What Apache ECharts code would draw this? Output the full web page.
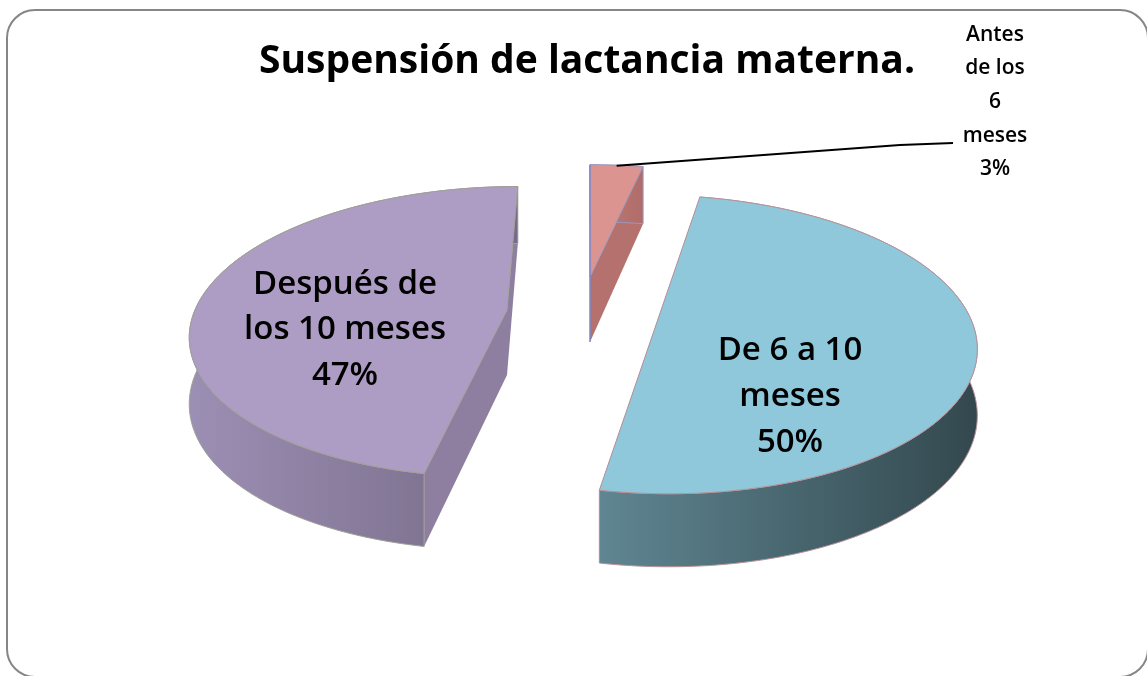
<!DOCTYPE html>
<html><head><meta charset="utf-8">
<style>html,body{margin:0;padding:0;background:#fff}#c{width:1147px;height:676px}</style>
<script src="https://cdn.jsdelivr.net/npm/echarts@6/dist/echarts.min.js"></script>
</head><body><div id="c"></div>
<script>
const chartTitle = 'Suspensión de lactancia materna.';
const categories = ['Antes\nde los\n6\nmeses', 'De 6 a 10\nmeses', 'Después de\nlos 10 meses'];
const values = [3, 50, 47];

// Layout and style per slice (exploded 3D pie)
const FONT = '"Open Sans","Noto Sans",sans-serif';
const layout = [
  {cx:590, cy:277, rx:325, ry:129, top:'#dc9490', edge:'#9a9ac0', wall:['#c07c78','#b06c68'], radial:'#b5716e',
   lx:995, ly:102, fs:21, lh:33.7, fw:600},
  {cx:657, cy:322, rx:315, ry:146, top:'#8fc8da', edge:'#b8929a', wall:['#5f8692','#33484e'], radial:'#5f8692',
   lx:790, ly:397, fs:33, lh:46, fw:600},
  {cx:507, cy:310, rx:312, ry:142, top:'#ad9cc3', edge:'#a0a098', wall:['#9c8fb4','#766a86'], radial:'#8e7fa0',
   lx:345, ly:330, fs:33, lh:45.5, fw:600}
];
const K = 0.15, VANISH_X = 590, D0 = 65, D1 = 8;
const total = values.reduce((a, b) => a + b, 0);

function project(L, theta, r) {
  const u = Math.sin(theta) * r, v = -Math.cos(theta) * r;
  const s = 1 / (1 - K * v);
  return [L.cx + L.rx * u * s + (L.cx - VANISH_X) * (s - 1), L.cy + L.ry * v * s, D0 + D1 * v];
}
function down(p) { return [p[0], p[1] + p[2]]; }

function renderSlice(params, api) {
  const i = params.dataIndex;
  const L = layout[i];
  let startVal = 0;
  for (let j = 0; j < i; j++) startVal += values[j];
  const a0 = startVal / total * 2 * Math.PI;
  const a1 = (startVal + api.value(0)) / total * 2 * Math.PI;
  const arc = [];
  const n = Math.max(6, Math.round((a1 - a0) * 60));
  for (let t = 0; t <= n; t++) arc.push(project(L, a0 + (a1 - a0) * t / n, 1));
  const c = project(L, 0, 0);
  const first = arc[0], last = arc[arc.length - 1];
  const xs = arc.map(p => p[0]);
  const x0 = Math.min.apply(null, xs), x1 = Math.max.apply(null, xs);
  const wallFill = new echarts.graphic.LinearGradient(0, 0, 1, 0, [
    {offset: 0, color: L.wall[0]}, {offset: 1, color: L.wall[1]}]);
  const ch = [];
  const poly = (pts, fill, stroke) => ({type:'polygon', shape:{points:pts.map(p => [p[0], p[1]])},
    style:{fill:fill, stroke:stroke || 'none', lineWidth:stroke ? 1 : 0}});
  ch.push(poly([c, first, down(first), down(c)], L.radial));
  ch.push(poly([c, last, down(last), down(c)], L.radial));
  ch.push(poly(arc.concat(arc.slice().reverse().map(down)), wallFill, L.edge));
  ch.push(poly([c].concat(arc), L.top, L.edge));
  if (i === 0) {
    // blue-grey rim and leader line of the small slice
    ch.push({type:'polyline', shape:{points:[[first[0], first[1]], [c[0], c[1]], down(c)]},
      style:{stroke:'#7f86c4', lineWidth:1.5, fill:'none'}});
    const mid = project(L, (a0 + a1) / 2, 1);
    ch.push({type:'polyline', shape:{points:[[mid[0], mid[1]+0.5], [900, 145], [L.lx - 42, L.ly + 41]]},
      style:{stroke:'#000', lineWidth:2, fill:'none'}});
  }
  ch.push({type:'text', style:{x:L.lx, y:L.ly,
    text: categories[i] + '\n' + api.value(0) + '%',
    font: L.fw + ' ' + L.fs + 'px ' + FONT, fill:'#000', align:'center', verticalAlign:'middle',
    lineHeight:L.lh}});
  return {type:'group', children:ch};
}

const chart = echarts.init(document.getElementById('c'), null, {renderer:'canvas'});
chart.setOption({
  animation:false,
  backgroundColor:'#fff',
  title:{text:chartTitle, left:582, top:37, textAlign:'center',
    textStyle:{fontFamily:FONT, fontWeight:700, fontSize:39, color:'#000'}},
  graphic:[{type:'rect', z:-1, shape:{x:7, y:10, width:1141, height:667, r:28},
    style:{fill:'#fff', stroke:'#868686', lineWidth:2}}],
  series:[{type:'custom', coordinateSystem:'none', renderItem:renderSlice,
    data:values.map(v => [v]), silent:true, clip:false}]
});
</script></body></html>
